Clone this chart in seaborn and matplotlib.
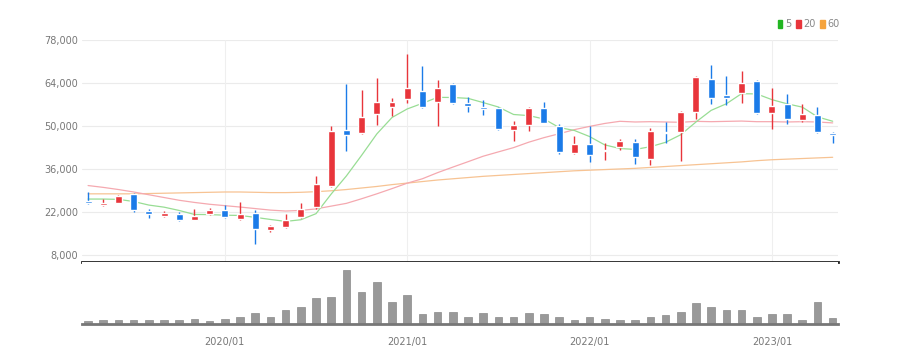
import numpy as np
import pandas as pd
import matplotlib
matplotlib.use("Agg")
import matplotlib.pyplot as plt
from matplotlib.patches import Patch
import seaborn as sns

# monthly candles 2019/04 .. 2023/05
months = pd.period_range("2019-04", "2023-05", freq="M").strftime("%Y/%m").tolist()

opens = [25600, 24300, 25000, 27800, 22300, 20800, 21300, 19400, 21300, 22500,
         19800, 21800, 16200, 17000, 20300, 23700, 30600, 48700, 47800, 53800,
         56300, 58700, 61400, 57800, 63600, 57600, 56300, 55800, 48600, 50300,
         56000, 50000, 41300, 44100, 41700, 43100, 44800, 39200, 48000, 48200,
         54700, 65200, 60100, 60600, 64800, 54300, 57200, 52000, 53600, 47600]
highs = [28500, 26100, 27600, 28300, 23100, 22400, 22100, 22900, 23200, 24200,
         25300, 22700, 17900, 21300, 24800, 33700, 50000, 63600, 61700, 65700,
         59200, 73300, 69600, 65000, 64100, 59500, 58500, 56300, 51600, 56100,
         57700, 50500, 46700, 50000, 44600, 45800, 45700, 49300, 51400, 55000,
         66400, 69900, 66300, 67900, 65000, 62300, 60400, 57100, 56100, 48200]
lows = [24600, 24100, 24800, 22100, 20100, 20500, 19100, 19300, 21100, 20000,
        19500, 11600, 15400, 16700, 19900, 23000, 30000, 41900, 47400, 50300,
        53300, 57400, 55800, 50100, 57200, 54700, 53500, 48700, 45100, 48400,
        50900, 40800, 40900, 38400, 38900, 42200, 37500, 37300, 44400, 38700,
        52200, 57200, 56800, 57600, 53800, 48900, 50700, 51400, 47600, 44400]
closes = [25000, 24900, 27300, 22700, 21300, 21600, 19500, 20800, 22500, 20300,
          21200, 16400, 17400, 19300, 23000, 31100, 48400, 46900, 52800, 57800,
          57900, 62300, 56100, 62500, 57600, 56500, 55400, 48900, 50300, 55800,
          51000, 41500, 44100, 40400, 42200, 45100, 40000, 48500, 47600, 54500,
          65800, 59000, 59200, 64100, 54100, 56500, 52200, 53800, 48200, 47000]

ma5 = [26200, 26200, 26100, 25400, 24240, 23560, 22480, 21180, 21140, 20940,
       20860, 20240, 19560, 18920, 19460, 21440, 27840, 33740, 40440, 47400,
       52760, 55540, 57380, 59320, 59280, 59000, 57620, 56180, 53740, 53380,
       52280, 49500, 48540, 46560, 43840, 42660, 42360, 43240, 44680, 47140,
       51280, 55080, 57220, 60520, 60440, 58580, 57220, 56140, 52960, 51540]
ma20 = [30600, 30000, 29300, 28500, 27600, 26700, 25800, 25100, 24500, 24050,
        23600, 23100, 22600, 22300, 22500, 23000, 23900, 24800, 26300, 27900,
        29600, 31370, 32810, 34800, 36600, 38360, 40150, 41560, 42950, 44720,
        46200, 47470, 48800, 49860, 50820, 51520, 51300, 51400, 51300, 51200,
        51500, 51400, 51500, 51600, 51400, 51400, 51300, 51400, 51300, 51000]
ma60 = [27900, 27900, 27900, 27900, 28000, 28100, 28200, 28300, 28400, 28500,
        28500, 28400, 28300, 28300, 28400, 28600, 28900, 29300, 29800, 30300,
        30900, 31400, 31900, 32400, 32800, 33200, 33600, 33900, 34200, 34500,
        34800, 35100, 35400, 35600, 35800, 36000, 36200, 36500, 36800, 37100,
        37400, 37700, 38000, 38300, 38700, 39000, 39200, 39400, 39600, 39800]

volume = [10, 12, 11, 13, 12, 11, 11, 16, 8, 15, 20, 32, 20, 41, 52, 77, 81, 161, 97, 125,
          66, 86, 30, 37, 35, 21, 33, 21, 22, 32, 31, 21, 12, 21, 16, 12, 12, 22, 27, 35,
          63, 52, 43, 41, 21, 31, 31, 12, 67, 18]

year_ticks = ["2020/01", "2021/01", "2022/01", "2023/01"]
price_ticks = [8000, 22000, 36000, 50000, 64000, 78000]

UP, DOWN = "#e8353b", "#1b7be8"

sns.set_style("white")
plt.rcParams["font.family"] = ["Liberation Sans Narrow", "DejaVu Sans"]

fig = plt.figure(figsize=(8.98, 3.64), dpi=100)
L, R = 82 / 898, 838 / 898
ax = fig.add_axes([L, 1 - 262 / 364, R - L, (262 - 40) / 364])
axv = fig.add_axes([L, 1 - 324 / 364, R - L, (324 - 262) / 364], sharex=ax)

idx = np.arange(len(months))
tick_pos = [months.index(m) for m in year_ticks]

# grid
for y in price_ticks:
    ax.axhline(y, color="#ebebeb", lw=0.8, zorder=0)
for x in tick_pos:
    ax.axvline(x, color="#efefef", lw=0.8, zorder=0)

# moving averages
sns.lineplot(x=idx, y=ma60, ax=ax, color="#f7c393", lw=0.9, zorder=2)
sns.lineplot(x=idx, y=ma20, ax=ax, color="#f5a9b0", lw=0.9, zorder=2)
sns.lineplot(x=idx, y=ma5, ax=ax, color="#98dd94", lw=0.9, zorder=2)

# candles
for i in idx:
    o, h, l, c = opens[i], highs[i], lows[i], closes[i]
    col = UP if c >= o else DOWN
    ax.vlines(i, l, h, color=col, lw=1, zorder=3)
    ax.bar(i, max(abs(c - o), 350), bottom=min(o, c), width=0.46, color=col, zorder=4)

ax.set_xlim(-0.4, 49.35)
ax.set_ylim(5700, 78000)
ax.set_yticks(price_ticks)
ax.set_yticklabels([f"{v:,}" for v in price_ticks])
ax.tick_params(axis="y", length=0, labelsize=7, colors="#777777", pad=3)
ax.tick_params(axis="x", length=0, labelbottom=False)
for s in ["top", "right", "left"]:
    ax.spines[s].set_visible(False)
ax.spines["bottom"].set_color("#222222")
ax.spines["bottom"].set_linewidth(2)

# volume
sns.barplot(x=idx, y=volume, ax=axv, native_scale=True, width=0.5,
            color="#999999", saturation=1, edgecolor="#8a8a8a", linewidth=0.5)
axv.set_ylim(0, 186)
axv.set_xlim(-0.4, 49.35)
axv.set_yticks([])
axv.set_xticks(tick_pos)
axv.set_xticklabels(year_ticks)
axv.set_xlabel("")
axv.tick_params(axis="x", length=4, width=1, color="#666666", labelsize=7,
                labelcolor="#777777", pad=5)
for s in ["top", "right", "left"]:
    axv.spines[s].set_visible(False)
axv.spines["bottom"].set_color("#777777")
axv.spines["bottom"].set_linewidth(2)

handles = [Patch(color="#22b622", label="5"), Patch(color="#e8353b", label="20"),
           Patch(color="#f5a33c", label="60")]
fig.legend(handles=handles, loc="upper right", bbox_to_anchor=(840 / 898, 1 - 19 / 364),
           ncol=3, frameon=False, fontsize=7, labelcolor="#888888",
           handlelength=0.5, handleheight=0.9, handletextpad=0.25, columnspacing=0.5,
           borderpad=0, borderaxespad=0)

fig.savefig("out.png", dpi=100)
